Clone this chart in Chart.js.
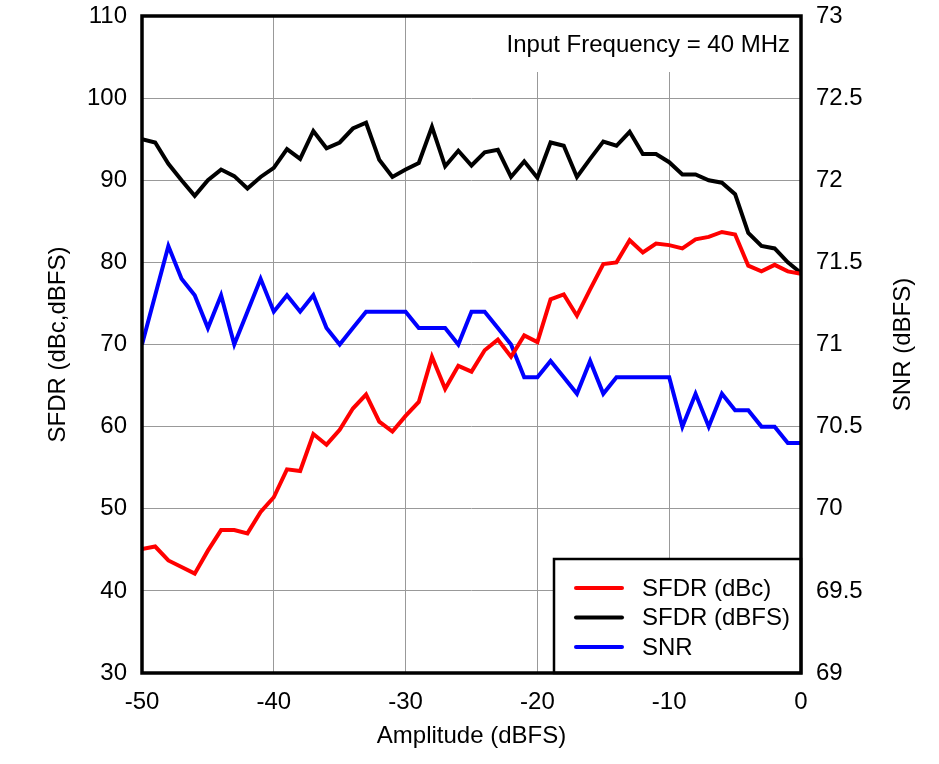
<!DOCTYPE html>
<html>
<head>
<meta charset="utf-8">
<title>SFDR and SNR vs Amplitude</title>
<script src="https://cdn.jsdelivr.net/npm/chart.js@4.4.1/dist/chart.umd.min.js"></script>
<style>
	html, body { margin: 0; padding: 0; background: #fff; }
	#wrap { width: 939px; height: 764px; position: relative; }
</style>
</head>
<body>
<div id="wrap"><canvas id="chart"></canvas></div>
<script>
// input amplitude, dBFS
var amplitude = [
	-50, -49, -48, -47, -46, -45, -44, -43, -42, -41,
	-40, -39, -38, -37, -36, -35, -34, -33, -32, -31,
	-30, -29, -28, -27, -26, -25, -24, -23, -22, -21,
	-20, -19, -18, -17, -16, -15, -14, -13, -12, -11,
	-10, -9, -8, -7, -6, -5, -4, -3, -2, -1, 0
];

// SFDR in dBc (left axis)
var sfdrDbc = [
	45.1, 45.4, 43.7, 42.9, 42.1, 44.9, 47.4, 47.4, 47.0, 49.6,
	51.4, 54.8, 54.6, 59.1, 57.8, 59.6, 62.2, 63.9, 60.6, 59.4,
	61.3, 63.0, 68.5, 64.6, 67.4, 66.7, 69.3, 70.6, 68.5, 71.1,
	70.3, 75.5, 76.1, 73.5, 76.7, 79.8, 80.0, 82.7, 81.2, 82.3,
	82.1, 81.7, 82.8, 83.1, 83.7, 83.4, 79.6, 78.9, 79.7, 78.9, 78.6
];

// SFDR in dBFS (left axis)
var sfdrDbfs = [
	95.0, 94.6, 92.0, 90.0, 88.1, 90.0, 91.3, 90.5, 89.0, 90.4,
	91.5, 93.8, 92.6, 96.0, 93.9, 94.6, 96.3, 97.0, 92.5, 90.4,
	91.3, 92.1, 96.5, 91.7, 93.6, 91.8, 93.4, 93.7, 90.4, 92.3,
	90.3, 94.6, 94.2, 90.4, 92.6, 94.7, 94.2, 95.9, 93.2, 93.2,
	92.2, 90.7, 90.7, 90.0, 89.7, 88.3, 83.6, 82.0, 81.7, 80.0, 78.7
];

// SNR in dBFS (right axis)
var snr = [
	71.0, 71.3, 71.6, 71.4, 71.3, 71.1, 71.3, 71.0, 71.2, 71.4,
	71.2, 71.3, 71.2, 71.3, 71.1, 71.0, 71.1, 71.2, 71.2, 71.2,
	71.2, 71.1, 71.1, 71.1, 71.0, 71.2, 71.2, 71.1, 71.0, 70.8,
	70.8, 70.9, 70.8, 70.7, 70.9, 70.7, 70.8, 70.8, 70.8, 70.8,
	70.8, 70.5, 70.7, 70.5, 70.7, 70.6, 70.6, 70.5, 70.5, 70.4, 70.4
];

var annotationText = "Input Frequency = 40 MHz";
var FONT = "'Liberation Sans', Arial, sans-serif";

function toPoints(values) {
	return values.map(function (v, i) {
		return { x: amplitude[i], y: v };
	});
}

// frame, note box, legend box and right axis title
var decorations = {
	id: "decorations",
	beforeDatasetsDraw: function (chart) {
		var ctx = chart.ctx;
		var area = chart.chartArea;
		ctx.save();
		// white box behind the note hides the grid
		ctx.fillStyle = "#fff";
		ctx.fillRect(495, area.top, area.right - 495, 72 - area.top);
		ctx.fillStyle = "#000";
		ctx.font = "24px " + FONT;
		ctx.textAlign = "right";
		ctx.textBaseline = "middle";
		ctx.fillText(annotationText, 790, 45);
		ctx.restore();
	},
	afterDatasetsDraw: function (chart) {
		var ctx = chart.ctx;
		var area = chart.chartArea;
		var sets = chart.data.datasets;
		ctx.save();
		// legend
		var lx = 554, ly = 559;
		ctx.fillStyle = "#fff";
		ctx.fillRect(lx, ly, area.right - lx, area.bottom - ly);
		ctx.strokeStyle = "#000";
		ctx.lineWidth = 2.5;
		ctx.strokeRect(lx, ly, area.right - lx, area.bottom - ly);
		ctx.font = "24px " + FONT;
		ctx.textAlign = "left";
		ctx.textBaseline = "middle";
		for (var i = 0; i < sets.length; i++) {
			var y = 588 + i * 29.5;
			ctx.strokeStyle = sets[i].borderColor;
			ctx.lineWidth = 4;
			ctx.lineCap = "round";
			ctx.beginPath();
			ctx.moveTo(576, y);
			ctx.lineTo(622, y);
			ctx.stroke();
			ctx.fillStyle = "#000";
			ctx.fillText(sets[i].label, 642, y + 1);
		}
		ctx.restore();
	},
	afterDraw: function (chart) {
		var ctx = chart.ctx;
		var area = chart.chartArea;
		ctx.save();
		ctx.strokeStyle = "#000";
		ctx.lineWidth = 3.5;
		ctx.strokeRect(area.left, area.top, area.right - area.left, area.bottom - area.top);
		// right title reads bottom to top
		ctx.translate(903, (area.top + area.bottom) / 2);
		ctx.rotate(-Math.PI / 2);
		ctx.fillStyle = "#000";
		ctx.font = "24px " + FONT;
		ctx.textAlign = "center";
		ctx.textBaseline = "middle";
		ctx.fillText("SNR (dBFS)", 0, 0);
		ctx.restore();
	}
};

var tickFont = { family: FONT, size: 24 };

function noVertPadding(scale) {
	scale.paddingTop = 0;
	scale.paddingBottom = 0;
}

new Chart(document.getElementById("chart").getContext("2d"), {
	type: "line",
	data: {
		datasets: [
			{
				label: "SFDR (dBc)",
				data: toPoints(sfdrDbc),
				borderColor: "#ff0000",
				borderWidth: 4,
				pointRadius: 0,
				tension: 0,
				yAxisID: "y",
			},
			{
				label: "SFDR (dBFS)",
				data: toPoints(sfdrDbfs),
				borderColor: "#000000",
				borderWidth: 4,
				pointRadius: 0,
				tension: 0,
				yAxisID: "y",
			},
			{
				label: "SNR",
				data: toPoints(snr),
				borderColor: "#0000ff",
				borderWidth: 4,
				pointRadius: 0,
				tension: 0,
				yAxisID: "y2",
			},
		],
	},
	options: {
		responsive: true,
		maintainAspectRatio: false,
		devicePixelRatio: 1,
		animation: false,
		layout: { padding: { top: 16, left: 0, right: 0, bottom: 0 } },
		plugins: {
			legend: { display: false },
			tooltip: { enabled: false },
		},
		scales: {
			x: {
				type: "linear",
				min: -50,
				max: 0,
				ticks: { stepSize: 10, color: "#000", font: tickFont, padding: 15, maxRotation: 0 },
				grid: { color: "#999", lineWidth: 1, drawTicks: false },
				border: { display: false },
				title: {
					display: true,
					text: "Amplitude (dBFS)",
					color: "#000",
					font: tickFont,
					padding: { top: 0, bottom: 13 },
				},
				afterFit: function (scale) { scale.height = 91; },
			},
			y: {
				position: "left",
				min: 30,
				max: 110,
				ticks: { stepSize: 10, color: "#000", font: tickFont, padding: 15 },
				grid: { color: "#999", lineWidth: 1, drawTicks: false },
				border: { display: false },
				title: {
					display: true,
					text: "SFDR (dBc,dBFS)",
					color: "#000",
					font: tickFont,
					padding: { top: 44, bottom: 0 },
				},
				afterFit: function (scale) { scale.width = 142; noVertPadding(scale); },
			},
			y2: {
				position: "right",
				min: 69,
				max: 73,
				ticks: {
					stepSize: 0.5,
					color: "#000",
					font: tickFont,
					padding: 15,
					callback: function (value) { return String(value); },
				},
				grid: { display: false, drawTicks: false },
				border: { display: false },
				afterFit: function (scale) { scale.width = 138; noVertPadding(scale); },
			},
		},
	},
	plugins: [decorations],
});
</script>
</body>
</html>
